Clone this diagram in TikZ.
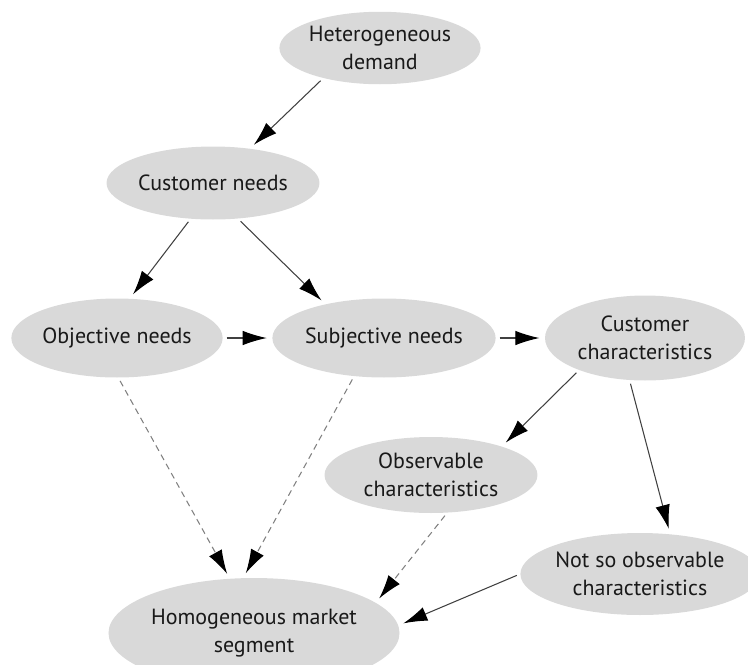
\documentclass[tikz,border=0pt]{standalone}
\usepackage{fontspec}
\setmainfont{PT Sans}
\usetikzlibrary{shapes.geometric,arrows.meta}
\begin{document}
\begin{tikzpicture}[x=0.02cm,y=-0.02cm,
  every node/.style={font=\fontsize{12.5}{16}\selectfont,text=black!90},
  blob/.style={ellipse,fill=gray!30,inner sep=0pt,align=center},
  link/.style={line width=0.6pt,black!75,shorten <=2pt,shorten >=3pt,
    -{Latex[length=4.8mm,width=2.9mm,color=black]}},
  hint/.style={link,dash pattern=on 3.5pt off 2.5pt,black!50}]
  \useasboundingbox (0,0) rectangle (748,664);
  % ellipses
  \node[blob,minimum width=3.75cm,minimum height=1.45cm] (hetero) at (380,48) {Heterogeneous\\demand};
  \node[blob,minimum width=4.26cm,minimum height=1.46cm] (needs) at (213,183) {Customer needs};
  \node[blob,minimum width=4.18cm,minimum height=1.58cm] (objective) at (117,338) {Objective needs};
  \node[blob,minimum width=4.24cm,minimum height=1.58cm] (subjective) at (384,338) {Subjective needs};
  \node[blob,minimum width=4.0cm,minimum height=1.7cm] (custchar) at (645,338) {Customer\\characteristics};
  \node[blob,minimum width=4.26cm,minimum height=1.52cm] (observable) at (431,475) {Observable\\characteristics};
  \node[blob,minimum width=4.3cm,minimum height=1.64cm] (notso) at (640,574) {Not so observable\\characteristics};
  \node[blob,minimum width=5.46cm,minimum height=2.2cm] (segment) at (254,633) {Homogeneous market\\segment};
  % arrows
  \draw[link] (hetero.208) -- (needs.43);
  \draw[link] (needs.238) -- (objective.72);
  \draw[link] (needs.-55) -- (subjective.150);
  \draw[link] (objective) -- (subjective);
  \draw[link] (subjective) -- (custchar);
  \draw[link] (custchar.206) -- (observable.22);
  \draw[link] (custchar.250) -- (notso.53);
  \draw[hint] (objective.272) -- (segment.114);
  \draw[hint] (subjective.232) -- (segment.101);
  \draw[hint] (observable.-67) -- (segment.14);
  \draw[link] (notso.180) -- (segment.3);
\end{tikzpicture}
\end{document}
